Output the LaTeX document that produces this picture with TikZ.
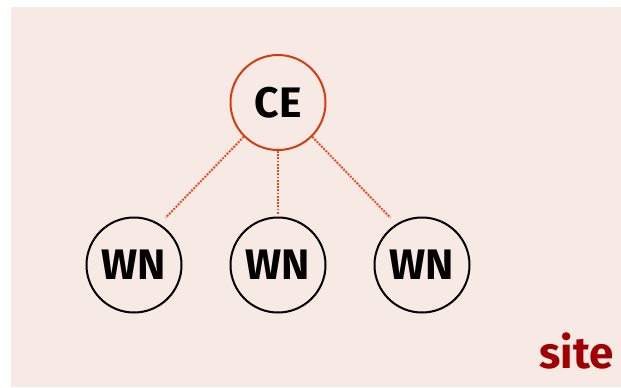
\documentclass[tikz,border=0pt]{standalone}
\usepackage{fontspec}
\setmainfont{Fira Sans}
\usetikzlibrary{calc}
\definecolor{paper}{RGB}{247,234,228}
\definecolor{ceorange}{RGB}{210,60,18}
\definecolor{linkorange}{RGB}{226,74,30}
\definecolor{sitered}{RGB}{160,0,0}
\begin{document}
\begin{tikzpicture}[x=0.75pt,y=-0.75pt,
  nodecircle/.style={circle,draw,line width=1.5pt,minimum size=71.25pt,inner sep=0pt,
    font=\fontsize{32}{36}\selectfont\bfseries},
  cenode/.style={nodecircle,draw=ceorange},
  wnnode/.style={nodecircle,draw=black},
  link/.style={draw=linkorange,line width=1.5pt,dash pattern=on 1.4pt off 1pt},
  sitelabel/.style={text=sitered,font=\fontsize{33}{36}\selectfont\bfseries,anchor=base,inner sep=0pt}]
  \useasboundingbox (0,0) rectangle (621,387);
  \fill[paper] (11,7) rectangle (621,387);

  \node[cenode] (ce) at (278,102.5) {CE};
  \node[wnnode] (wn1) at (134,265) {WN};
  \node[wnnode] (wn2) at (278,265) {WN};
  \node[wnnode] (wn3) at (422,265) {WN};

  \draw[link,shorten >=6.5pt] (ce.225) -- (wn1.58);
  \draw[link,shorten >=2pt] (ce.south) -- (wn2.north);
  \draw[link,shorten >=6.5pt] (ce.-45) -- (wn3.122);

  \node[sitelabel] (site) at (576.5,368) {site};
\end{tikzpicture}
\end{document}
